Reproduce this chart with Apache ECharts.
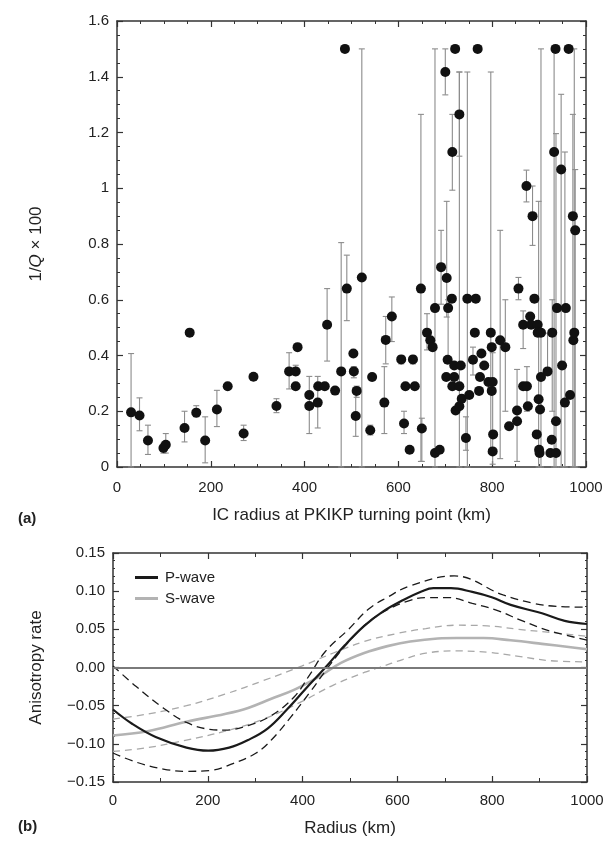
<!DOCTYPE html>
<html><head><meta charset="utf-8">
<script src="https://cdn.jsdelivr.net/npm/echarts@6/dist/echarts.min.js"></script>
<style>html,body{margin:0;padding:0;background:#fff}#c{width:608px;height:853px}</style>
</head><body><div id="c"></div>
<script>
// ---- Panel (a): 1/Q x 100 vs IC radius ----
const qRadius = [30,48,66,99,104,144,155,169,188,213,236,270,291,340,367,381,381,385,410,410,428,429,443,448,465,478,486,490,504,505,511,509,522,540,544,570,573,586,606,612,615,624,631,635,648,650,661,668,673,678,678,688,691,700,702,703,705,706,714,715,715,719,719,721,722,730,730,730,733,735,744,747,751,759,763,765,769,772,774,777,783,792,797,799,799,801,801,802,817,828,836,853,853,856,866,866,873,874,876,881,883,886,890,895,897,897,899,900,901,902,904,904,918,924,927,928,932,935,936,936,938,947,949,955,957,963,966,972,973,975,977];
const qValue  = [0.196,0.185,0.095,0.068,0.08,0.14,0.482,0.195,0.095,0.206,0.29,0.12,0.324,0.219,0.343,0.343,0.29,0.43,0.219,0.258,0.231,0.29,0.29,0.51,0.274,0.343,1.5,0.64,0.407,0.343,0.273,0.183,0.68,0.132,0.323,0.231,0.456,0.54,0.386,0.156,0.29,0.062,0.386,0.29,0.64,0.138,0.482,0.455,0.43,0.57,0.05,0.062,0.717,1.417,0.323,0.678,0.385,0.57,0.604,1.13,0.29,0.323,0.364,1.5,0.203,1.265,0.29,0.218,0.364,0.245,0.104,0.604,0.258,0.385,0.482,0.604,1.5,0.273,0.323,0.407,0.364,0.305,0.482,0.43,0.273,0.305,0.056,0.117,0.455,0.43,0.146,0.203,0.164,0.64,0.51,0.29,1.008,0.29,0.218,0.54,0.51,0.9,0.604,0.117,0.51,0.482,0.243,0.062,0.05,0.206,0.323,0.482,0.343,0.05,0.098,0.482,1.13,1.5,0.05,0.164,0.57,1.067,0.364,0.231,0.57,1.5,0.258,0.9,0.455,0.482,0.849];
const qLow    = [0,0.13,0.045,0.05,0.05,0.09,null,0.18,0.015,0.145,null,0.095,null,0.195,0.28,0.33,0.28,null,0.12,null,0.14,null,0.28,0.38,null,0,null,0.525,null,0.32,0.25,0.11,0,0.115,0.31,0.12,0.37,0.45,0.37,0.12,null,null,0.37,0.28,0.02,0.02,0.42,null,null,0,null,null,0.584,1.335,null,0.538,null,0.39,null,0.993,null,null,null,null,null,1.115,0,null,null,null,0.06,0,null,0.33,null,null,null,null,null,null,null,null,0.05,null,null,0.01,null,null,0.03,0.2,null,0.02,null,0.6,0.425,null,0.951,0.2,null,null,null,0.795,null,null,null,null,0,null,null,null,null,0,0.33,null,null,0.2,0,null,null,0,null,0,null,0,null,null,null,0,null,0,0];
const qHigh   = [0.407,0.248,0.15,0.085,0.12,0.2,null,0.22,0.18,0.275,null,0.15,null,0.245,0.41,0.365,0.3,null,0.325,null,0.325,null,0.3,0.64,null,0.805,null,0.76,null,0.36,0.29,0.273,1.5,0.15,0.335,0.36,0.54,0.61,0.4,0.2,null,null,0.4,0.3,1.265,0.175,0.55,null,null,1.5,null,null,0.849,1.5,null,0.953,null,0.6,null,1.265,null,null,null,null,null,1.417,1.417,null,null,null,0.18,1.417,null,0.43,null,null,null,null,null,null,null,null,1.417,null,null,0.41,null,null,0.849,0.6,null,0.35,null,0.68,0.56,null,1.065,0.36,null,null,null,1.008,null,null,null,null,0.953,null,null,null,null,1.5,0.48,null,null,0.6,1.5,null,null,1.196,null,1.337,null,1.13,null,null,null,1.265,null,1.5,1.067];

// ---- Panel (b): anisotropy rate vs radius ----
const pRadius  = [0,41,90,155,201,245,285,326,367,407,448,489,530,570,611,652,676,713,758,799,839,905,953,1000];
const pRate    = [-0.055,-0.074,-0.091,-0.105,-0.109,-0.105,-0.095,-0.08,-0.055,-0.0275,0.0,0.029,0.0545,0.0735,0.088,0.10,0.104,0.104,0.099,0.092,0.082,0.071,0.061,0.057];
const pUpR     = [0,49,106,155,204,236,285,334,383,416,448,497,538,579,627,720,823,888,937,1000];
const pUpper   = [0.002,-0.025,-0.053,-0.072,-0.081,-0.082,-0.076,-0.063,-0.038,-0.0086,0.021,0.05,0.076,0.092,0.107,0.12,0.095,0.084,0.08,0.079];
const pLoR     = [0,49,106,155,204,253,302,334,375,416,456,497,538,579,627,660,709,758,807,864,921,1000];
const pLower   = [-0.112,-0.124,-0.133,-0.136,-0.135,-0.126,-0.112,-0.095,-0.065,-0.032,0.002,0.0335,0.059,0.0756,0.088,0.0916,0.0916,0.084,0.0756,0.061,0.048,0.036];
const sRadius  = [0,73,155,236,285,334,383,432,481,530,579,627,685,725,782,839,905,1000];
const sRate    = [-0.089,-0.0835,-0.071,-0.061,-0.053,-0.041,-0.029,-0.013,0.006,0.019,0.028,0.034,0.038,0.0386,0.0386,0.0356,0.031,0.024];
const sUpR     = [0,73,155,236,318,399,465,530,595,660,725,790,856,921,1000];
const sUpper   = [-0.0675,-0.061,-0.05,-0.035,-0.017,0.002,0.019,0.034,0.044,0.051,0.0554,0.0545,0.050,0.046,0.041];
const sLoR     = [0,73,155,236,318,399,465,530,562,611,660,725,790,856,921,1000];
const sLower   = [-0.11,-0.105,-0.095,-0.0835,-0.0675,-0.0444,-0.023,-0.0065,0,0.0104,0.0188,0.0217,0.02,0.0146,0.009,0.0074];

const FONT = '"Liberation Sans", Arial, sans-serif';
const zip = (xs, ys) => xs.map((x, i) => [x, ys[i]]);
const errData = [];
qRadius.forEach((x, i) => { if (qLow[i] !== null) errData.push([x, qLow[i], qHigh[i]]); });

const chart = echarts.init(document.getElementById('c'), null, {renderer: 'canvas'});
function axisCommon(extra) {
  return Object.assign({
    axisLine: {show: true, onZero: false, lineStyle: {color: '#333', width: 1.5}},
    axisTick: {show: true, inside: true, length: 6, lineStyle: {color: '#333', width: 1.2}},
    minorTick: {show: true, length: 3, lineStyle: {color: '#333', width: 1}},
    splitLine: {show: false},
    axisLabel: {color: '#222', fontSize: 15, fontFamily: FONT}
  }, extra);
}
const xFmt = v => String(v);
const option = {
  animation: false,
  backgroundColor: '#fff',
  grid: [
    {left: 117, right: 22, top: 21, height: 446, containLabel: false, outerBoundsMode: 'none'},
    {left: 113, right: 21, top: 553, height: 229, containLabel: false, outerBoundsMode: 'none'}
  ],
  legend: {
    data: ['P-wave', 'S-wave'], orient: 'vertical', left: 130, top: 565, itemGap: 6,
    icon: 'rect', itemWidth: 23, itemHeight: 3,
    textStyle: {fontFamily: FONT, fontSize: 15, color: '#222', padding: [0, 0, 0, 2]}
  },
  xAxis: [
    axisCommon({gridIndex: 0, type: 'value', position: 'bottom', min: 0, max: 1000, interval: 200,
      minorTick: {show: true, splitNumber: 4, length: 3, lineStyle: {color: '#333'}},
      axisLabel: {color: '#222', fontSize: 15, fontFamily: FONT, margin: 13, formatter: xFmt},
      name: 'IC radius at PKIKP turning point (km)', nameLocation: 'middle', nameGap: 40,
      nameTextStyle: {fontSize: 17, color: '#222', fontFamily: FONT}}),
    axisCommon({gridIndex: 0, type: 'value', position: 'top', min: 0, max: 1000, interval: 200,
      minorTick: {show: true, splitNumber: 4, length: 3, lineStyle: {color: '#333'}},
      axisLabel: {show: false}}),
    axisCommon({gridIndex: 1, type: 'value', position: 'bottom', min: 0, max: 1000, interval: 200,
      minorTick: {show: true, splitNumber: 2, length: 4, lineStyle: {color: '#333'}},
      axisLabel: {color: '#222', fontSize: 15, fontFamily: FONT, margin: 11, formatter: xFmt},
      name: 'Radius (km)', nameLocation: 'middle', nameGap: 38,
      nameTextStyle: {fontSize: 17, color: '#222', fontFamily: FONT}}),
    axisCommon({gridIndex: 1, type: 'value', position: 'top', min: 0, max: 1000, interval: 200,
      minorTick: {show: true, splitNumber: 2, length: 4, lineStyle: {color: '#333'}},
      axisLabel: {show: false}})
  ],
  yAxis: [
    axisCommon({gridIndex: 0, type: 'value', position: 'left', min: 0, max: 1.6, interval: 0.2,
      minorTick: {show: true, splitNumber: 4, length: 3, lineStyle: {color: '#333'}},
      axisLabel: {color: '#222', fontSize: 15, fontFamily: FONT, margin: 8,
        formatter: v => String(Math.round(v * 10) / 10)},
      name: '1/{i|Q} × 100', nameLocation: 'middle', nameGap: 72, nameRotate: 90,
      nameTextStyle: {fontSize: 17, color: '#222', fontFamily: FONT,
        rich: {i: {fontStyle: 'italic', fontSize: 17, fontFamily: FONT, color: '#222'}}}}),
    axisCommon({gridIndex: 0, type: 'value', position: 'right', min: 0, max: 1.6, interval: 0.2,
      minorTick: {show: true, splitNumber: 4, length: 3, lineStyle: {color: '#333'}},
      axisLabel: {show: false}}),
    axisCommon({gridIndex: 1, type: 'value', position: 'left', min: -0.15, max: 0.15, interval: 0.05,
      minorTick: {show: true, splitNumber: 5, length: 2, lineStyle: {color: '#333'}},
      axisLabel: {color: '#222', fontSize: 15, fontFamily: FONT, margin: 8,
        formatter: v => v.toFixed(2).replace('-', '\u2212')},
      name: 'Anisotropy rate', nameLocation: 'middle', nameGap: 68, nameRotate: 90,
      nameTextStyle: {fontSize: 17, color: '#222', fontFamily: FONT}}),
    axisCommon({gridIndex: 1, type: 'value', position: 'right', min: -0.15, max: 0.15, interval: 0.05,
      minorTick: {show: true, splitNumber: 5, length: 2, lineStyle: {color: '#333'}},
      axisLabel: {show: false}})
  ],
  graphic: [
    {type: 'text', left: 18, top: 511, style: {text: '(a)', font: 'bold 15px ' + FONT, fill: '#222'}},
    {type: 'text', left: 18, top: 819, style: {text: '(b)', font: 'bold 15px ' + FONT, fill: '#222'}}
  ],
  series: [
    {
      type: 'custom', xAxisIndex: 0, yAxisIndex: 0, z: 2, data: errData, silent: true,
      renderItem: function (params, api) {
        const x = api.value(0), lo = api.value(1), hi = api.value(2);
        const a = api.coord([x, hi]), b = api.coord([x, lo]);
        const w = 3, st = {stroke: '#8c8c8c', lineWidth: 1.1};
        return {type: 'group', children: [
          {type: 'line', shape: {x1: a[0], y1: a[1], x2: b[0], y2: b[1]}, style: st},
          {type: 'line', shape: {x1: a[0] - w, y1: a[1], x2: a[0] + w, y2: a[1]}, style: st},
          {type: 'line', shape: {x1: b[0] - w, y1: b[1], x2: b[0] + w, y2: b[1]}, style: st}
        ]};
      }
    },
    {
      type: 'scatter', xAxisIndex: 0, yAxisIndex: 0, z: 3, symbolSize: 10,
      itemStyle: {color: '#111', opacity: 1}, data: zip(qRadius, qValue)
    },
    {
      name: 'zero', type: 'line', xAxisIndex: 2, yAxisIndex: 2, data: [], silent: true,
      markLine: {silent: true, symbol: 'none', label: {show: false},
        lineStyle: {color: '#7a7a7a', width: 2, type: 'solid'}, data: [{yAxis: 0}]}
    },
    {type: 'line', xAxisIndex: 2, yAxisIndex: 2, data: zip(sUpR, sUpper), symbol: 'none', smooth: 0.4,
      lineStyle: {color: '#a8a8a8', width: 1.3, type: [7, 5]}},
    {type: 'line', xAxisIndex: 2, yAxisIndex: 2, data: zip(sLoR, sLower), symbol: 'none', smooth: 0.4,
      lineStyle: {color: '#a8a8a8', width: 1.3, type: [7, 5]}},
    {name: 'S-wave', type: 'line', xAxisIndex: 2, yAxisIndex: 2, data: zip(sRadius, sRate), symbol: 'none', smooth: 0.4,
      itemStyle: {color: '#b3b3b3'}, lineStyle: {color: '#b3b3b3', width: 2.6}},
    {type: 'line', xAxisIndex: 2, yAxisIndex: 2, data: zip(pUpR, pUpper), symbol: 'none', smooth: 0.4,
      lineStyle: {color: '#1a1a1a', width: 1.3, type: [8, 5]}},
    {type: 'line', xAxisIndex: 2, yAxisIndex: 2, data: zip(pLoR, pLower), symbol: 'none', smooth: 0.4,
      lineStyle: {color: '#1a1a1a', width: 1.3, type: [8, 5]}},
    {name: 'P-wave', type: 'line', xAxisIndex: 2, yAxisIndex: 2, data: zip(pRadius, pRate), symbol: 'none', smooth: 0.4,
      itemStyle: {color: '#1a1a1a'}, lineStyle: {color: '#1a1a1a', width: 2.2}}
  ]
};
chart.setOption(option);
</script></body></html>
